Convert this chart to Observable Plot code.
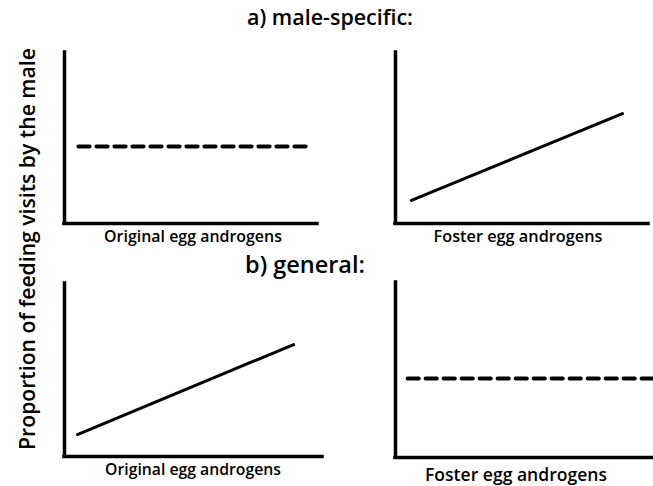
<!DOCTYPE html>
<html>
<head>
<meta charset="utf-8">
<script src="https://cdn.jsdelivr.net/npm/d3@7"></script>
<script src="https://cdn.jsdelivr.net/npm/@observablehq/plot@0.6"></script>
<style>
  html, body { margin: 0; padding: 0; background: #fff; }
  #fig { position: relative; width: 653px; height: 486px; overflow: hidden; font-family: "Open Sans", Lato, sans-serif; color: #000; }
  #fig svg { position: absolute; overflow: visible; }
  .txt { position: absolute; white-space: nowrap; line-height: 1; transform: translateX(-50%); }
</style>
</head>
<body>
<div id="fig"></div>
<script>
// ---- data ----
const panelTitles = ["a) male-specific:", "b) general:"];
const xLabels = ["Original egg androgens", "Foster egg androgens", "Original egg androgens", "Foster egg androgens"];
const yLabel = "Proportion of feeding visits by the male";
const lineX = [[0.055, 0.96], [0.063, 0.897], [0.05, 0.888], [0.047, 1.0]];
const lineY = [[0.45, 0.45], [0.135, 0.643], [0.127, 0.647], [0.451, 0.451]];
const lineDashed = [true, false, false, true];

// ---- layout (page pixels) ----
const panels = [
  {cx: 64, cy: 223, top: 52, right: 317},
  {cx: 395, cy: 223, top: 52, right: 648},
  {cx: 64, cy: 456, top: 283, right: 322},
  {cx: 395, cy: 457, top: 282, right: 653}
];
const m = 4;
const fig = document.getElementById("fig");

panels.forEach((p, i) => {
  const data = lineX[i].map((x, j) => ({x, y: lineY[i][j]}));
  const chart = Plot.plot({
    width: p.right - p.cx + 2 * m,
    height: p.cy - p.top + 2 * m,
    marginLeft: m, marginRight: m, marginTop: m, marginBottom: m,
    x: {domain: [0, 1], axis: null},
    y: {domain: [0, 1], axis: null},
    marks: [
      Plot.ruleX([0], {stroke: "black", strokeWidth: 3.5, strokeLinecap: "square"}),
      Plot.ruleY([0], {stroke: "black", strokeWidth: 3.5, strokeLinecap: "square"}),
      Plot.line(data, {
        x: "x", y: "y", stroke: "black",
        strokeWidth: lineDashed[i] ? 4 : 3,
        strokeDasharray: lineDashed[i] ? "11.2,6.8" : null
      })
    ]
  });
  chart.style.left = (p.cx - m) + "px";
  chart.style.top = (p.top - m) + "px";
  fig.appendChild(chart);
});

// text fitted to the reference widths
function addText(str, cx, baseline, width, weight, rotate) {
  const d = document.createElement("div");
  d.className = "txt";
  d.textContent = str;
  d.style.fontWeight = weight;
  d.style.fontSize = "20px";
  fig.appendChild(d);
  const w = d.getBoundingClientRect().width;
  const size = 20 * width / w;
  d.style.fontSize = size + "px";
  if (rotate) {
    // baseline is an x position; text centered vertically at cx (page y)
    d.style.left = (baseline - 0.3 * size) + "px";
    d.style.top = cx + "px";
    d.style.transform = "translate(-50%, -50%) rotate(-90deg)";
  } else {
    d.style.left = cx + "px";
    d.style.top = (baseline - 0.97 * size) + "px";
  }
}

addText(panelTitles[0], 330, 27, 166, 600);
addText(panelTitles[1], 305, 276, 120, 600);
const labelPos = [[193, 244, 178], [518, 244, 169], [193, 477, 176], [516, 483, 182]];
xLabels.forEach((t, i) => addText(t, labelPos[i][0], labelPos[i][1], labelPos[i][2], 600));
addText(yLabel, 249, 33, 402, 600, true);
</script>
</body>
</html>
